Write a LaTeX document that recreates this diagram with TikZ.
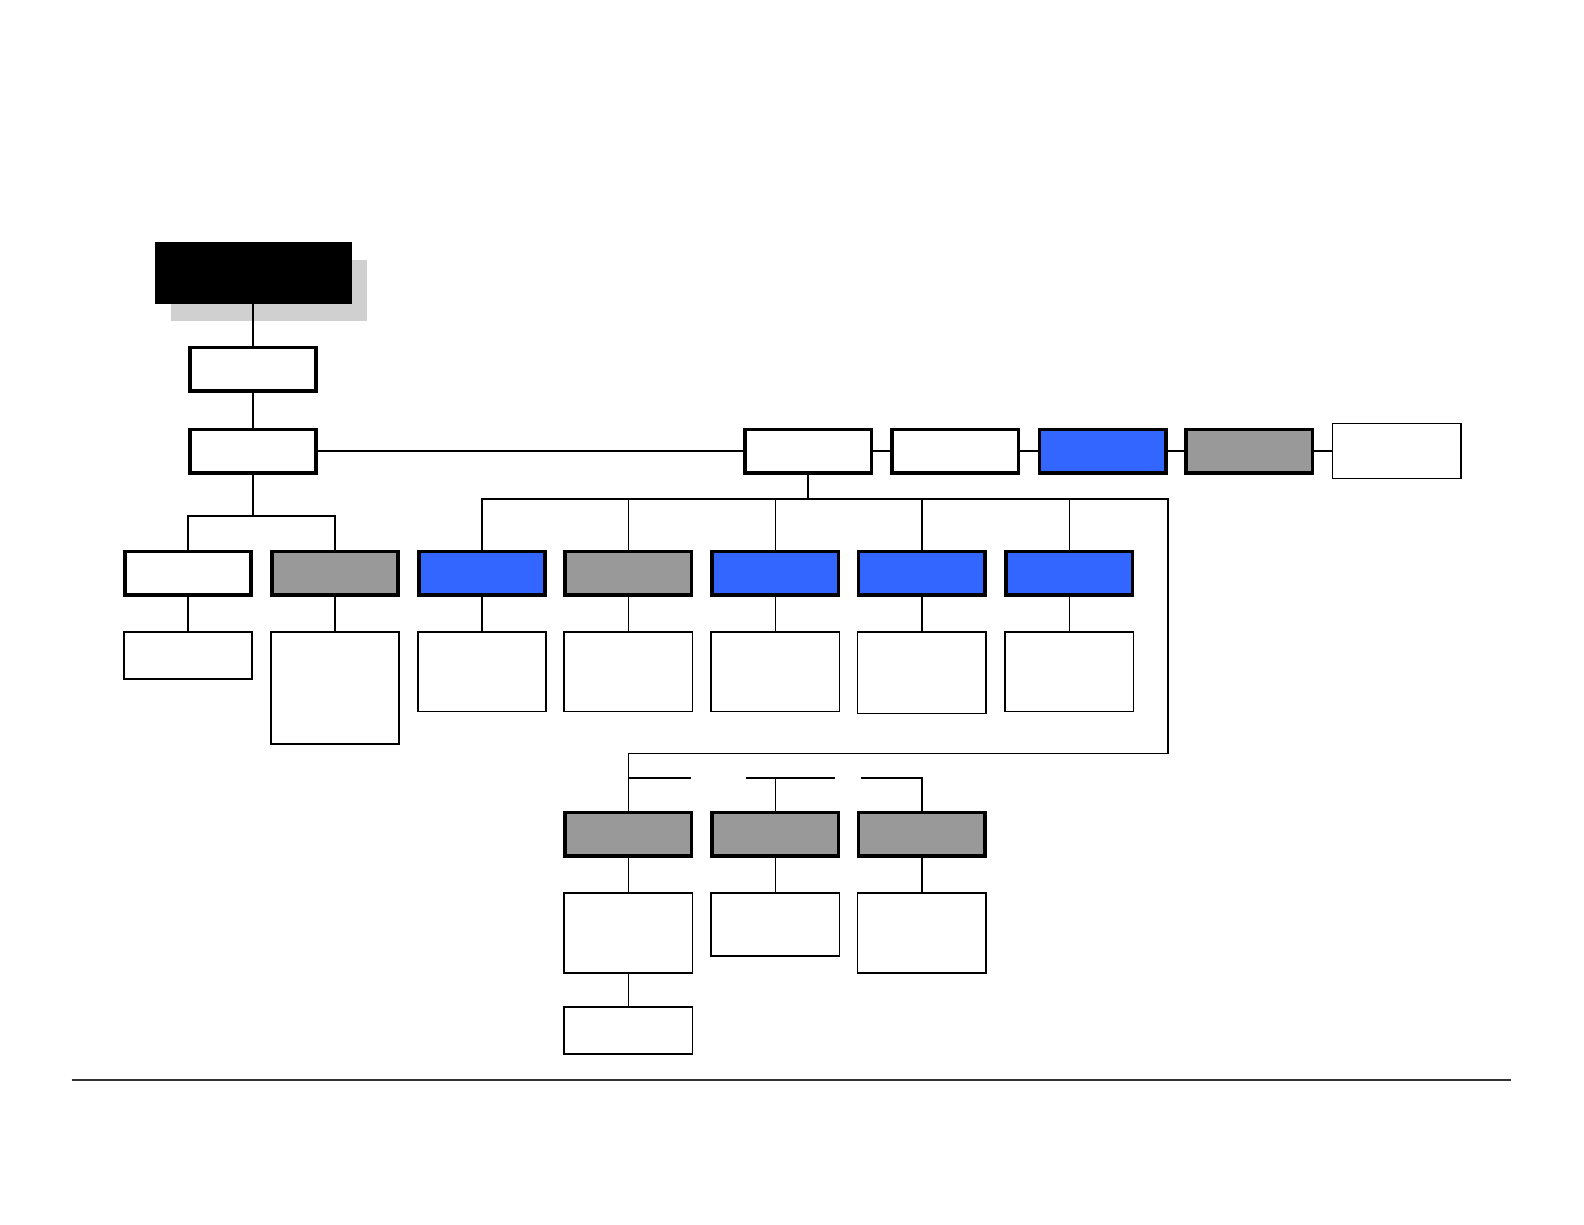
\documentclass[tikz,border=0pt]{standalone}
\usepackage{xcolor}
\usepackage{tikz}
\usetikzlibrary{shadows}
\definecolor{unitblue}{RGB}{51,102,255}
\definecolor{unitgray}{RGB}{153,153,153}
\definecolor{shadowgray}{RGB}{208,208,208}
\begin{document}
\begin{tikzpicture}[
x=1pt,
y=-1pt,
headbox/.style={rectangle,draw=black,fill=black,line width=1pt,minimum width=194pt,minimum height=60pt,inner sep=0pt,drop shadow={shadow xshift=16pt,shadow yshift=-17pt,fill=shadowgray,opacity=1}},
unit/.style={rectangle,draw,line width=3.5pt,minimum width=125pt,minimum height=43pt,inner sep=0pt},
plainbox/.style={unit,fill=white},
graybox/.style={unit,fill=unitgray},
bluebox/.style={unit,fill=unitblue},
notebox/.style={rectangle,draw,fill=white,line width=1.6pt,minimum width=127pt,inner sep=0pt,anchor=north},
conn/.style={line width=1.6pt}
]
\useasboundingbox (0,0) rectangle (1568,1212);
\node[headbox] (top) at (250.5,270.5) {};
\node[plainbox] (lvla) at (250.5,365.5) {};
\node[plainbox] (lvlb) at (250.5,446.5) {};
\node[plainbox] (c1) at (800,446.5) {};
\node[plainbox] (c2) at (945.5,446.5) {};
\node[bluebox] (c3) at (1091.5,446.5) {};
\node[graybox] (c4) at (1236.5,446.5) {};
\node[notebox,anchor=center,minimum height=54.5pt] (c5) at (1382.5,446.5) {};
\node[plainbox] (r1) at (186,567.5) {};
\node[graybox] (r2) at (331.5,567.5) {};
\node[bluebox] (r3) at (477,567.5) {};
\node[graybox] (r4) at (622,567.5) {};
\node[bluebox] (r5) at (767.5,567.5) {};
\node[bluebox] (r6) at (912.5,567.5) {};
\node[bluebox] (r7) at (1058.5,567.5) {};
\node[notebox,minimum height=46.5pt] (n1) at (186,625) {};
\node[notebox,minimum height=110.5pt] (n2) at (331.5,625) {};
\node[notebox,minimum height=78.5pt] (n3) at (477,625) {};
\node[notebox,minimum height=78.5pt] (n4) at (622,625) {};
\node[notebox,minimum height=78.5pt] (n5) at (767.5,625) {};
\node[notebox,minimum height=80.5pt] (n6) at (912.5,625) {};
\node[notebox,minimum height=78.5pt] (n7) at (1058.5,625) {};
\node[graybox] (g1) at (622,826) {};
\node[graybox] (g2) at (767.5,826) {};
\node[graybox] (g3) at (912.5,826) {};
\node[notebox,minimum height=79.5pt] (m1) at (622,883) {};
\node[notebox,minimum height=62.5pt] (m2) at (767.5,883) {};
\node[notebox,minimum height=79.5pt] (m3) at (912.5,883) {};
\node[notebox,minimum height=46.5pt] (b1) at (622,996) {};

\coordinate (jb) at (250.5,511);
\coordinate (busc) at (800,494);
\coordinate (busr) at (1156,494);
\coordinate (loopr) at (1156,746);
\coordinate (suba) at (684,770);
\coordinate (subbl) at (738,770);
\coordinate (subbr) at (827,770);
\coordinate (subcl) at (852,770);
\coordinate (rulel) at (71,1069);
\coordinate (ruler) at (1496,1069);

\draw[conn] (top) -- (lvla);
\draw[conn] (lvla) -- (lvlb);
\draw[conn] (lvlb) -- (c1);
\draw[conn] (c1) -- (c2);
\draw[conn] (c2) -- (c3);
\draw[conn] (c3) -- (c4);
\draw[conn] (c4) -- (c5);
\draw[conn] (lvlb) -- (jb);
\draw[conn] (r1) |- (jb) -| (r2);
\draw[conn] (c1) -- (busc);
\draw[conn] (r3) |- (busr) -- (loopr) -| (g1);
\foreach \n in {r4,r5,r6,r7}
  \draw[conn] (\n) -- (\n |- busc);
\foreach \a/\b in {r1/n1,r2/n2,r3/n3,r4/n4,r5/n5,r6/n6,r7/n7,g1/m1,g2/m2,g3/m3,m1/b1}
  \draw[conn] (\a) -- (\b);
\draw[conn] (g1 |- suba) -- (suba);
\draw[conn] (subbl) -- (subbr);
\draw[conn] (g2) -- (g2 |- subbl);
\draw[conn] (subcl) -| (g3);
\draw[line width=1.2pt,black!80] (rulel) -- (ruler);
\end{tikzpicture}
\end{document}
